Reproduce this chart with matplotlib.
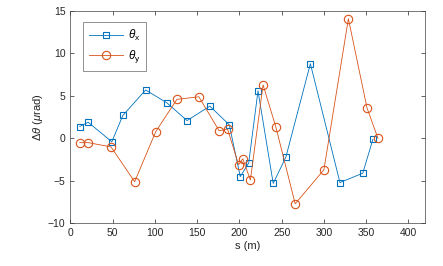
import matplotlib
matplotlib.use("Agg")
import matplotlib.pyplot as plt

plt.rcParams["font.family"] = ["Liberation Sans", "DejaVu Sans"]
plt.rcParams["mathtext.fontset"] = "custom"
plt.rcParams["mathtext.rm"] = "Liberation Sans"
plt.rcParams["mathtext.it"] = "Liberation Sans:italic"

# posições e desvios
s_x = [11, 21, 49, 62, 89, 114, 138, 165, 188, 201, 211, 222, 240, 255, 284, 319, 346, 358]
theta_x = [1.4, 1.9, -0.4, 2.7, 5.7, 4.2, 2.1, 3.8, 1.6, -4.5, -2.9, 5.6, -5.3, -2.2, 8.8, -5.2, -4.1, -0.1]

s_y = [11, 21, 48, 76, 101, 126, 152, 176, 186, 199, 204, 213, 228, 243, 266, 300, 329, 351, 364]
theta_y = [-0.5, -0.5, -1.0, -5.1, 0.8, 4.6, 4.9, 0.9, 1.1, -3.1, -2.4, -4.9, 6.3, 1.4, -7.7, -3.7, 14.1, 3.6, 0.0]

xticks = [0, 50, 100, 150, 200, 250, 300, 350, 400]
yticks = [-10, -5, 0, 5, 10, 15]

blue = "#0072BD"
orange = "#D95319"

fig = plt.figure(figsize=(4.43, 2.66), dpi=100)
ax = fig.add_axes([0.159, 0.1605, 0.801, 0.798])

ax.plot(s_x, theta_x, "-s", color=blue, lw=0.6, ms=4.2, mfc="none", mew=0.8,
        label=r"$\theta_{\rm x}$")
ax.plot(s_y, theta_y, "-o", color=orange, lw=0.6, ms=6, mfc="none", mew=0.8,
        label=r"$\theta_{\rm y}$")

ax.set_xlim(0, 420)
ax.set_ylim(-10, 15)
ax.set_xticks(xticks)
ax.set_yticks(yticks)
ax.tick_params(direction="in", length=3, width=0.5, labelsize=7.5,
               colors="#262626", top=True, right=True)
for sp in ax.spines.values():
    sp.set_color("#404040")
    sp.set_linewidth(0.5)

ax.set_xlabel("s (m)", fontsize=8, color="#262626", labelpad=2)
ax.set_ylabel(r"$\Delta\theta$ ($\mu$rad)", fontsize=8, color="#262626", labelpad=2)

leg = ax.legend(loc="upper left", fontsize=8.5, fancybox=False, edgecolor="#404040",
                borderpad=0.5, handlelength=2.9, handletextpad=0.4, labelspacing=0.45,
                borderaxespad=0, bbox_to_anchor=(0.036, 0.948))
leg.get_frame().set_linewidth(0.5)

plt.savefig("out.png", dpi=100)
plt.close()
